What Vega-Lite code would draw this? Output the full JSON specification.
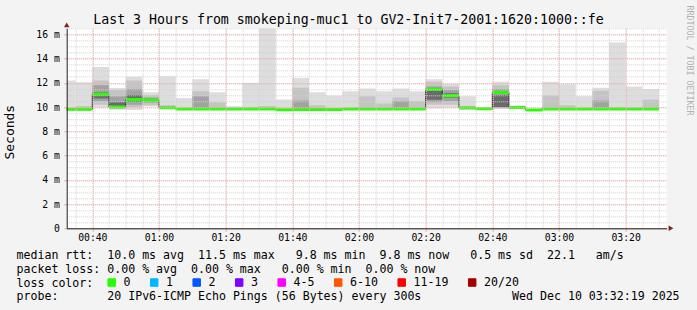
{
  "$schema": "https://vega.github.io/schema/vega-lite/v6.json",
  "width": 600,
  "height": 200,
  "autosize": {"type": "none"},
  "padding": {"left": 66.7, "top": 28.3, "right": 30.3, "bottom": 81.7},
  "background": "#f3f3f3",
  "config": {"view": {"fill": "white", "stroke": null}, "font": "DejaVu Sans Mono"},
  "data": {"values": [
    {"t": "2025-12-10T00:30:00", "t2": "2025-12-10T00:35:00", "mn": 9.72, "mx": 12.19, "med": 9.83, "loss": "0"},
    {"t": "2025-12-10T00:35:00", "t2": "2025-12-10T00:40:00", "mn": 9.72, "mx": 12.05, "alo": 9.8, "ahi": 10.1, "med": 9.83, "loss": "0"},
    {"t": "2025-12-10T00:40:00", "t2": "2025-12-10T00:45:00", "mn": 9.95, "mx": 13.3, "alo": 10.2, "ahi": 12.2, "blo": 10.5, "bhi": 11.8, "clo": 10.7, "chi": 11.2, "med": 11.05, "loss": "0"},
    {"t": "2025-12-10T00:45:00", "t2": "2025-12-10T00:50:00", "mn": 9.78, "mx": 11.58, "alo": 9.85, "ahi": 11.4, "blo": 9.95, "bhi": 10.9, "clo": 10.0, "chi": 10.4, "med": 10.0, "loss": "0"},
    {"t": "2025-12-10T00:50:00", "t2": "2025-12-10T00:55:00", "mn": 9.75, "mx": 12.5, "alo": 10.0, "ahi": 12.2, "blo": 10.2, "bhi": 11.5, "clo": 10.45, "chi": 11.0, "med": 10.62, "loss": "0"},
    {"t": "2025-12-10T00:55:00", "t2": "2025-12-10T01:00:00", "mn": 10.05, "mx": 11.22, "alo": 10.15, "ahi": 11.0, "blo": 10.35, "bhi": 10.8, "med": 10.57, "loss": "0"},
    {"t": "2025-12-10T01:00:00", "t2": "2025-12-10T01:05:00", "mn": 9.85, "mx": 12.55, "alo": 9.9, "ahi": 10.15, "med": 9.95, "loss": "0"},
    {"t": "2025-12-10T01:05:00", "t2": "2025-12-10T01:10:00", "mn": 9.75, "mx": 10.75, "med": 9.85, "loss": "0"},
    {"t": "2025-12-10T01:10:00", "t2": "2025-12-10T01:15:00", "mn": 9.75, "mx": 12.3, "alo": 9.85, "ahi": 11.3, "blo": 9.9, "bhi": 10.9, "med": 9.85, "loss": "0"},
    {"t": "2025-12-10T01:15:00", "t2": "2025-12-10T01:20:00", "mn": 9.75, "mx": 11.22, "alo": 9.85, "ahi": 10.4, "med": 9.85, "loss": "0"},
    {"t": "2025-12-10T01:20:00", "t2": "2025-12-10T01:25:00", "mn": 9.75, "mx": 10.07, "med": 9.85, "loss": "0"},
    {"t": "2025-12-10T01:25:00", "t2": "2025-12-10T01:30:00", "mn": 9.75, "mx": 12.0, "alo": 9.8, "ahi": 10.0, "med": 9.85, "loss": "0"},
    {"t": "2025-12-10T01:30:00", "t2": "2025-12-10T01:35:00", "mn": 9.75, "mx": 16.5, "alo": 9.8, "ahi": 10.1, "med": 9.85, "loss": "0"},
    {"t": "2025-12-10T01:35:00", "t2": "2025-12-10T01:40:00", "mn": 9.7, "mx": 10.62, "med": 9.78, "loss": "0"},
    {"t": "2025-12-10T01:40:00", "t2": "2025-12-10T01:45:00", "mn": 9.7, "mx": 12.4, "alo": 9.75, "ahi": 11.6, "blo": 9.75, "bhi": 10.55, "med": 9.8, "loss": "0"},
    {"t": "2025-12-10T01:45:00", "t2": "2025-12-10T01:50:00", "mn": 9.7, "mx": 11.22, "alo": 9.75, "ahi": 10.15, "med": 9.8, "loss": "0"},
    {"t": "2025-12-10T01:50:00", "t2": "2025-12-10T01:55:00", "mn": 9.7, "mx": 10.95, "med": 9.8, "loss": "0"},
    {"t": "2025-12-10T01:55:00", "t2": "2025-12-10T02:00:00", "mn": 9.75, "mx": 11.3, "med": 9.85, "loss": "0"},
    {"t": "2025-12-10T02:00:00", "t2": "2025-12-10T02:05:00", "mn": 9.75, "mx": 11.53, "alo": 9.85, "ahi": 10.9, "med": 9.85, "loss": "0"},
    {"t": "2025-12-10T02:05:00", "t2": "2025-12-10T02:10:00", "mn": 9.75, "mx": 11.3, "alo": 9.85, "ahi": 10.3, "med": 9.85, "loss": "0"},
    {"t": "2025-12-10T02:10:00", "t2": "2025-12-10T02:15:00", "mn": 9.75, "mx": 11.53, "alo": 9.85, "ahi": 10.8, "blo": 9.85, "bhi": 10.5, "med": 9.85, "loss": "0"},
    {"t": "2025-12-10T02:15:00", "t2": "2025-12-10T02:20:00", "mn": 9.75, "mx": 11.3, "alo": 9.85, "ahi": 10.5, "med": 9.85, "loss": "0"},
    {"t": "2025-12-10T02:20:00", "t2": "2025-12-10T02:25:00", "mn": 9.9, "mx": 12.3, "alo": 10.2, "ahi": 12.1, "blo": 10.4, "bhi": 11.7, "clo": 10.6, "chi": 11.35, "med": 11.47, "loss": "0"},
    {"t": "2025-12-10T02:25:00", "t2": "2025-12-10T02:30:00", "mn": 9.95, "mx": 11.9, "alo": 10.2, "ahi": 11.7, "blo": 10.5, "bhi": 11.4, "clo": 10.8, "chi": 11.15, "med": 10.95, "loss": "0"},
    {"t": "2025-12-10T02:30:00", "t2": "2025-12-10T02:35:00", "mn": 9.75, "mx": 10.9, "med": 9.95, "loss": "0"},
    {"t": "2025-12-10T02:35:00", "t2": "2025-12-10T02:40:00", "mn": 9.8, "mx": 9.95, "med": 9.86, "loss": "0"},
    {"t": "2025-12-10T02:40:00", "t2": "2025-12-10T02:45:00", "mn": 9.85, "mx": 12.1, "alo": 9.9, "ahi": 11.8, "blo": 9.95, "bhi": 11.5, "clo": 10.0, "chi": 11.0, "med": 11.2, "loss": "0"},
    {"t": "2025-12-10T02:45:00", "t2": "2025-12-10T02:50:00", "mn": 9.8, "mx": 10.13, "med": 9.97, "loss": "0"},
    {"t": "2025-12-10T02:50:00", "t2": "2025-12-10T02:55:00", "mn": 9.72, "mx": 9.82, "med": 9.77, "loss": "0"},
    {"t": "2025-12-10T02:55:00", "t2": "2025-12-10T03:00:00", "mn": 9.75, "mx": 12.1, "alo": 9.85, "ahi": 10.95, "med": 9.85, "loss": "0"},
    {"t": "2025-12-10T03:00:00", "t2": "2025-12-10T03:05:00", "mn": 9.75, "mx": 11.88, "alo": 9.85, "ahi": 10.15, "med": 9.85, "loss": "0"},
    {"t": "2025-12-10T03:05:00", "t2": "2025-12-10T03:10:00", "mn": 9.75, "mx": 10.9, "med": 9.85, "loss": "0"},
    {"t": "2025-12-10T03:10:00", "t2": "2025-12-10T03:15:00", "mn": 9.75, "mx": 11.6, "alo": 9.85, "ahi": 11.35, "blo": 9.9, "bhi": 10.55, "med": 9.85, "loss": "0"},
    {"t": "2025-12-10T03:15:00", "t2": "2025-12-10T03:20:00", "mn": 9.75, "mx": 15.33, "alo": 9.85, "ahi": 10.0, "med": 9.85, "loss": "0"},
    {"t": "2025-12-10T03:20:00", "t2": "2025-12-10T03:25:00", "mn": 9.75, "mx": 11.7, "med": 9.85, "loss": "0"},
    {"t": "2025-12-10T03:25:00", "t2": "2025-12-10T03:30:00", "mn": 9.75, "mx": 11.5, "alo": 9.85, "ahi": 10.6, "med": 9.85, "loss": "0"}
  ]},
  "layer": [
    {
      "mark": {"type": "rect", "color": "#dddddd", "clip": true},
      "encoding": {
        "x": {"field": "t", "type": "temporal",
          "scale": {"domain": [{"year": 2025, "month": 12, "date": 10, "hours": 0, "minutes": 32, "seconds": 19}, {"year": 2025, "month": 12, "date": 10, "hours": 3, "minutes": 32, "seconds": 19}]},
          "axis": {"orient": "bottom", "grid": true, "gridColor": "#d2d2d2", "gridDash": [1, 1], "gridWidth": 1, "tickCount": 36, "labels": false, "ticks": false, "domain": false, "title": null, "zindex": 1}},
        "x2": {"field": "t2"},
        "y": {"field": "mn", "type": "quantitative",
          "scale": {"domain": [0, 16.5], "nice": false, "zero": false},
          "axis": {"orient": "left", "grid": true, "gridColor": "#d2d2d2", "gridDash": [1, 1], "gridWidth": 1, "tickCount": 33, "labels": false, "ticks": false, "domain": false, "title": null, "zindex": 1}},
        "y2": {"field": "mx"}
      }
    },
    {
      "mark": {"type": "rect", "color": "#c4c4c4", "clip": true},
      "encoding": {
        "x": {"field": "t", "type": "temporal",
          "scale": {"domain": [{"year": 2025, "month": 12, "date": 10, "hours": 0, "minutes": 32, "seconds": 19}, {"year": 2025, "month": 12, "date": 10, "hours": 3, "minutes": 32, "seconds": 19}]},
          "axis": {"orient": "bottom", "grid": true, "gridColor": "#f4a6a6", "gridDash": [1, 1], "gridWidth": 1,
            "values": [
              {"year": 2025, "month": 12, "date": 10, "hours": 0, "minutes": 40},
              {"year": 2025, "month": 12, "date": 10, "hours": 1, "minutes": 0},
              {"year": 2025, "month": 12, "date": 10, "hours": 1, "minutes": 20},
              {"year": 2025, "month": 12, "date": 10, "hours": 1, "minutes": 40},
              {"year": 2025, "month": 12, "date": 10, "hours": 2, "minutes": 0},
              {"year": 2025, "month": 12, "date": 10, "hours": 2, "minutes": 20},
              {"year": 2025, "month": 12, "date": 10, "hours": 2, "minutes": 40},
              {"year": 2025, "month": 12, "date": 10, "hours": 3, "minutes": 0},
              {"year": 2025, "month": 12, "date": 10, "hours": 3, "minutes": 20}
            ],
            "format": "%H:%M",
            "labelFont": "DejaVu Sans Mono", "labelFontSize": 9.75, "labelColor": "#000000", "labelPadding": 1.5, "labelFlush": false, "labelOverlap": false,
            "ticks": true, "tickSize": 3, "tickColor": "#f4a6a6",
            "domain": true, "domainColor": "#1f1f1f", "domainWidth": 1, "zindex": 1,
            "title": ["median rtt:\u00a0\u00a010.0 ms avg\u00a0\u00a011.5 ms max\u00a0\u00a0\u00a09.8 ms min\u00a0\u00a09.8 ms now\u00a0\u00a0\u00a00.5 ms sd\u00a0\u00a022.1\u00a0\u00a0\u00a0am/s",
                      "packet loss: 0.00 % avg\u00a0\u00a00.00 % max\u00a0\u00a0\u00a00.00 % min\u00a0\u00a00.00 % now",
                      "loss color:",
                      "probe:\u00a0\u00a0\u00a0\u00a0\u00a0\u00a0\u00a020 IPv6-ICMP Echo Pings (56 Bytes) every 300s\u00a0\u00a0\u00a0\u00a0\u00a0\u00a0\u00a0\u00a0\u00a0\u00a0\u00a0\u00a0\u00a0Wed Dec 10 03:32:19 2025"],
            "titleX": -50.7, "titleY": 30, "titleAlign": "left", "titleAnchor": "start", "titleBaseline": "alphabetic",
            "titleFont": "DejaVu Sans Mono", "titleFontSize": 11.6, "titleFontWeight": "normal", "titleColor": "#000000", "titleLineHeight": 13.9}},
        "x2": {"field": "t2"},
        "y": {"field": "alo", "type": "quantitative",
          "scale": {"domain": [0, 16.5], "nice": false, "zero": false},
          "axis": {"orient": "left", "grid": true, "gridColor": "#f4a6a6", "gridDash": [1, 1], "gridWidth": 1, "values": [0, 2, 4, 6, 8, 10, 12, 14, 16],
            "labelExpr": "datum.value == 0 ? '0' : datum.value + ' m'",
            "labelFont": "DejaVu Sans Mono", "labelFontSize": 9.75, "labelColor": "#000000", "labelPadding": 4.4,
            "ticks": true, "tickSize": 3, "tickColor": "#f4a6a6",
            "domain": true, "domainColor": "#1f1f1f", "domainWidth": 1, "zindex": 1,
            "title": "Seconds", "titleX": -56.7, "titleY": 103.4, "titleAngle": -90, "titleAlign": "center", "titleBaseline": "middle",
            "titleFont": "DejaVu Sans Mono", "titleFontSize": 13, "titleFontWeight": "normal", "titleColor": "#000000"}},
        "y2": {"field": "ahi"}
      }
    },
    {
      "mark": {"type": "rect", "color": "#a2a2a2", "clip": true},
      "encoding": {
        "x": {"field": "t", "type": "temporal",
          "scale": {"domain": [{"year": 2025, "month": 12, "date": 10, "hours": 0, "minutes": 32, "seconds": 19}, {"year": 2025, "month": 12, "date": 10, "hours": 3, "minutes": 32, "seconds": 19}]},
          "axis": {"orient": "top", "grid": false, "labels": false, "ticks": false, "domain": false,
            "title": "Last 3 Hours from smokeping-muc1 to GV2-Init7-2001:1620:1000::fe",
            "titleX": 281.3, "titleY": -4.8, "titleAlign": "center", "titleBaseline": "alphabetic",
            "titleFont": "DejaVu Sans Mono", "titleFontSize": 13.25, "titleFontWeight": "normal", "titleColor": "#000000"}},
        "x2": {"field": "t2"},
        "y": {"field": "blo", "type": "quantitative",
          "scale": {"domain": [0, 16.5], "nice": false, "zero": false},
          "axis": {"orient": "right", "grid": false, "labels": false, "ticks": false, "domain": false,
            "title": "RRDTOOL / TOBI OETIKER", "titleAngle": 90, "titleX": 21.3, "titleY": -23.3, "titleAlign": "left", "titleBaseline": "middle",
            "titleFont": "DejaVu Sans Mono", "titleFontSize": 8.3, "titleFontWeight": "normal", "titleColor": "#b0b0b0"}},
        "y2": {"field": "bhi"}
      }
    },
    {
      "mark": {"type": "rect", "color": "#6a6a6a", "clip": true},
      "encoding": {
        "x": {"field": "t", "type": "temporal", "axis": null,
          "scale": {"domain": [{"year": 2025, "month": 12, "date": 10, "hours": 0, "minutes": 32, "seconds": 19}, {"year": 2025, "month": 12, "date": 10, "hours": 3, "minutes": 32, "seconds": 19}]}},
        "x2": {"field": "t2"},
        "y": {"field": "clo", "type": "quantitative", "axis": null, "scale": {"domain": [0, 16.5], "nice": false, "zero": false}},
        "y2": {"field": "chi"}
      }
    },
    {
      "mark": {"type": "line", "interpolate": "step-after", "color": "#202020", "strokeWidth": 1, "clip": true},
      "encoding": {
        "x": {"field": "t", "type": "temporal", "axis": null,
          "scale": {"domain": [{"year": 2025, "month": 12, "date": 10, "hours": 0, "minutes": 32, "seconds": 19}, {"year": 2025, "month": 12, "date": 10, "hours": 3, "minutes": 32, "seconds": 19}]}},
        "y": {"field": "med", "type": "quantitative", "axis": null, "scale": {"domain": [0, 16.5], "nice": false, "zero": false}}
      }
    },
    {
      "mark": {"type": "rule", "strokeWidth": 3, "clip": true},
      "encoding": {
        "x": {"field": "t", "type": "temporal", "axis": null,
          "scale": {"domain": [{"year": 2025, "month": 12, "date": 10, "hours": 0, "minutes": 32, "seconds": 19}, {"year": 2025, "month": 12, "date": 10, "hours": 3, "minutes": 32, "seconds": 19}]}},
        "x2": {"field": "t2"},
        "y": {"field": "med", "type": "quantitative", "axis": null, "scale": {"domain": [0, 16.5], "nice": false, "zero": false}},
        "stroke": {"field": "loss", "type": "nominal", "legend": null,
          "scale": {"domain": ["0", "1", "2", "3", "4-5", "6-10", "11-19", "20/20"], "range": ["#26ff00", "#00b8ff", "#0059ff", "#7e00ff", "#ff00ff", "#ff5500", "#ff0000", "#a10000"]}},
        "fill": {"field": "loss", "type": "nominal",
          "scale": {"domain": ["0", "1", "2", "3", "4-5", "6-10", "11-19", "20/20"], "range": ["#26ff00", "#00b8ff", "#0059ff", "#7e00ff", "#ff00ff", "#ff5500", "#ff0000", "#a10000"]},
          "legend": {"title": null, "orient": "none", "legendX": 39.2, "legendY": 248.2, "direction": "horizontal",
            "symbolType": "square", "symbolSize": 56, "symbolStrokeColor": "#000000", "symbolStrokeWidth": 1, "symbolOpacity": 1,
            "labelFont": "DejaVu Sans Mono", "labelFontSize": 11.6, "labelColor": "#000000", "labelOffset": 6,
            "columnPadding": 17.5, "padding": 0, "offset": 0}}
      }
    },
    {
      "data": {"values": [{"t": "2025-12-10T00:32:19", "v": 16.5}]},
      "mark": {"type": "point", "shape": "triangle-up", "filled": true, "color": "#7f1f1f", "size": 30, "opacity": 1, "yOffset": -3.5},
      "encoding": {
        "x": {"field": "t", "type": "temporal", "axis": null,
          "scale": {"domain": [{"year": 2025, "month": 12, "date": 10, "hours": 0, "minutes": 32, "seconds": 19}, {"year": 2025, "month": 12, "date": 10, "hours": 3, "minutes": 32, "seconds": 19}]}},
        "y": {"field": "v", "type": "quantitative", "axis": null, "scale": {"domain": [0, 16.5], "nice": false, "zero": false}}
      }
    },
    {
      "data": {"values": [{"t": "2025-12-10T03:32:19", "v": 0}]},
      "mark": {"type": "point", "shape": "triangle-right", "filled": true, "color": "#7f1f1f", "size": 30, "opacity": 1, "xOffset": 4.3},
      "encoding": {
        "x": {"field": "t", "type": "temporal", "axis": null,
          "scale": {"domain": [{"year": 2025, "month": 12, "date": 10, "hours": 0, "minutes": 32, "seconds": 19}, {"year": 2025, "month": 12, "date": 10, "hours": 3, "minutes": 32, "seconds": 19}]}},
        "y": {"field": "v", "type": "quantitative", "axis": null, "scale": {"domain": [0, 16.5], "nice": false, "zero": false}}
      }
    }
  ],
  "resolve": {"axis": {"x": "independent", "y": "independent"}}
}
